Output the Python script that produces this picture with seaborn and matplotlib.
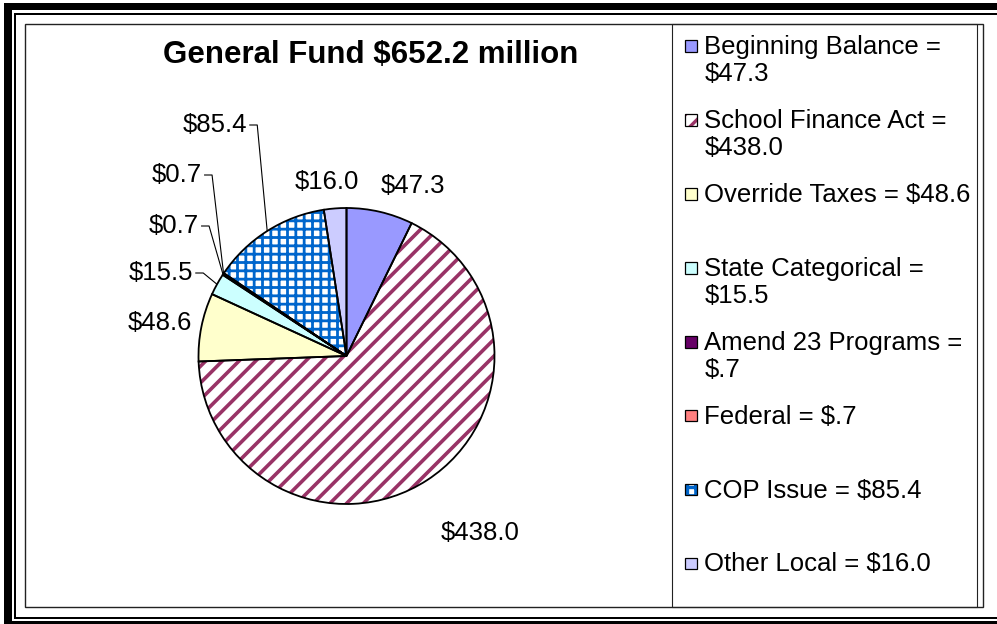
import numpy as np
import matplotlib
matplotlib.use("Agg")
import matplotlib.pyplot as plt
import seaborn as sns
from matplotlib.patches import Rectangle
from matplotlib.legend_handler import HandlerBase
from matplotlib.transforms import Affine2D

# ---------------- data ----------------
categories = ["Beginning Balance", "School Finance Act", "Override Taxes",
              "State Categorical", "Amend 23 Programs", "Federal",
              "COP Issue", "Other Local"]
values = [47.3, 438.0, 48.6, 15.5, 0.7, 0.7, 85.4, 16.0]
slice_labels = ["$47.3", "$438.0", "$48.6", "$15.5", "$0.7", "$0.7", "$85.4", "$16.0"]
legend_labels = ["Beginning Balance =\n$47.3", "School Finance Act =\n$438.0",
                 "Override Taxes = $48.6", "State Categorical =\n$15.5",
                 "Amend 23 Programs =\n$.7", "Federal = $.7",
                 "COP Issue = $85.4", "Other Local = $16.0"]
title = "General Fund $652.2 million"

# ---------------- styles ----------------
face_colors = ["#9999FF", "#FFFFFF", "#FFFFCC", "#CCFFFF", "#660066", "#FF8080", "#FFFFFF", "#CCCCFF"]
hatches = [None, "//", None, None, None, None, "++", None]
hatch_colors = [None, "#993366", None, None, None, None, "#0066CC", None]
hatch_widths = [None, 2.6, None, None, None, None, 2.0, None]
has_leader = [False, False, False, True, True, True, True, False]
label_px = [(413, 186), (480, 533), (160, 323), (161, 273), (174, 226), (177, 175), (215, 125), (327, 182)]

sns.set_theme(style="white")
plt.rcParams["font.family"] = ["Liberation Sans", "DejaVu Sans"]
plt.rcParams["text.parse_math"] = False
plt.rcParams["text.color"] = "black"
plt.rcParams["hatch.linewidth"] = 2.4

W, H = 997, 624
CX, CY, R = 346.5, 356.0, 148.0
FS = 18.5

fig = plt.figure(figsize=(W / 100, H / 100), dpi=100)
fig.patch.set_facecolor("white")
px = Affine2D().scale(1 / W, -1 / H).translate(0, 1) + fig.transFigure

def prect(x0, y0, x1, y1, **kw):
    fig.add_artist(Rectangle((x0, y0), x1 - x0, y1 - y0, transform=px, **kw))

# outer frame (black double border)
prect(4, 3, 997, 10, facecolor="black", edgecolor="none")
prect(4, 3, 12, 624, facecolor="black", edgecolor="none")
prect(14, 13, 997, 15, facecolor="black", edgecolor="none")
prect(14, 13, 16, 619, facecolor="black", edgecolor="none")
prect(14, 617, 997, 619, facecolor="black", edgecolor="none")
prect(4, 621, 997, 624, facecolor="black", edgecolor="none")
# chart area and legend box
prect(25, 24, 983, 607, facecolor="none", edgecolor="#222222", lw=1.0)
prect(672, 24, 977, 607, facecolor="none", edgecolor="#222222", lw=0.8)

# ---------------- pie ----------------
ax = fig.add_axes([25 / W, 1 - 607 / H, (672 - 25) / W, (607 - 24) / H])
wedges, _ = ax.pie(values, colors=face_colors, startangle=90, counterclock=False,
                   radius=1.0, wedgeprops=dict(linewidth=0))
for w, h, hc, hw in zip(wedges, hatches, hatch_colors, hatch_widths):
    if h:
        w.set_hatch(h)
        w.set_edgecolor(hc)
        w.set_linewidth(0)
        if hasattr(w, "set_hatch_linewidth"):
            w.set_hatch_linewidth(hw)
outline, _ = ax.pie(values, startangle=90, counterclock=False, radius=1.0,
                    wedgeprops=dict(fill=False, edgecolor="black", linewidth=1.3))
ax.set_aspect("auto")
ax.set_xlim((25 - CX) / R, (672 - CX) / R)
ax.set_ylim((CY - 607) / R, (CY - 24) / R)
ax.axis("off")

texts = []
for lab, (lx, ly) in zip(slice_labels, label_px):
    t = ax.text((lx - CX) / R, (CY - ly) / R, lab, ha="center", va="center",
                fontsize=FS, color="black")
    texts.append(t)

fig.canvas.draw()
inv = ax.transData.inverted()
for t, w, lead in zip(texts, wedges, has_leader):
    if not lead:
        continue
    bb = t.get_window_extent()
    ymid = (bb.y0 + bb.y1) / 2
    p0 = inv.transform((bb.x1 + 2, ymid))
    p1 = inv.transform((bb.x1 + 10, ymid))
    th = np.deg2rad((w.theta1 + w.theta2) / 2)
    p2 = (np.cos(th) * w.r, np.sin(th) * w.r)
    ax.plot([p0[0], p1[0], p2[0]], [p0[1], p1[1], p2[1]], color="black", lw=0.8,
            solid_capstyle="butt")

# ---------------- title ----------------
fig.text(370.5 / W, 1 - 55 / H, title, fontsize=22.5, fontweight="bold",
         ha="center", va="center", color="black")

# ---------------- legend ----------------
class SquareHandler(HandlerBase):
    def __init__(self, size, shift, **kw):
        super().__init__(**kw)
        self.size = size
        self.shift = shift

    def create_artists(self, legend, orig_handle, xdescent, ydescent, width, height,
                       fontsize, trans):
        s = self.size
        x = -xdescent
        y = -ydescent + height / 2 - s / 2 + self.shift
        arts = [Rectangle((x, y), s, s, facecolor=orig_handle.get_facecolor(),
                          edgecolor="none", lw=0, transform=trans)]
        if orig_handle.get_hatch():
            arts.append(Rectangle((x, y), s, s, facecolor="none",
                                  edgecolor=orig_handle.get_edgecolor(),
                                  hatch=orig_handle.get_hatch(), lw=0, transform=trans))
        arts.append(Rectangle((x, y), s, s, fill=False, edgecolor="black", lw=0.9,
                              transform=trans))
        return arts

handles = [Rectangle((0, 0), 1, 1, facecolor=fc, edgecolor=(hc if hc else "black"), hatch=h)
           for fc, h, hc in zip(face_colors, hatches, hatch_colors)]
labels2 = [l if "\n" in l else l + "\n " for l in legend_labels]
leg = fig.legend(handles, labels2, loc="upper left", bbox_to_anchor=(685 / W, 1 - 35 / H),
                 frameon=False, fontsize=FS, handlelength=0.45, handleheight=0.7,
                 handletextpad=0.3, labelspacing=0.876, borderpad=0, borderaxespad=0,
                 handler_map={Rectangle: SquareHandler(size=8.5, shift=11.0)})
for t in leg.get_texts():
    t.set_linespacing(1.18)
    t.set_color("black")

fig.savefig("out.png", dpi=100, facecolor="white")
